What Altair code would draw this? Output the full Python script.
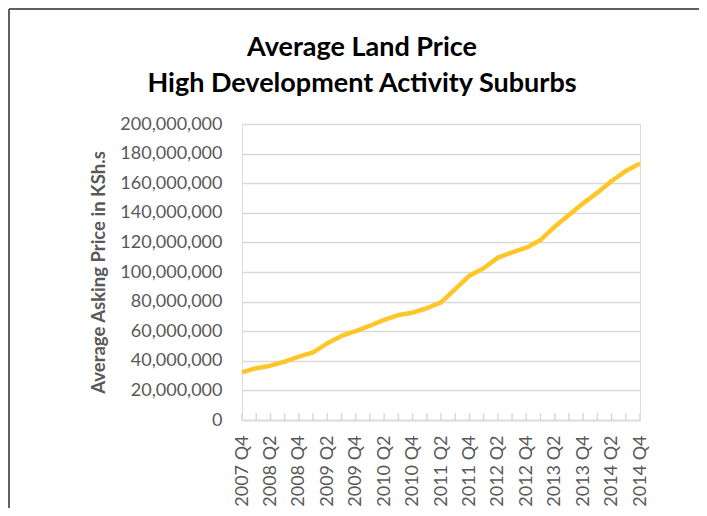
import altair as alt
import pandas as pd

quarters = ["2007 Q4"] + [f"{y} Q{q}" for y in range(2008, 2015) for q in range(1, 5)]
prices_m = [32.2, 35.0, 36.7, 39.4, 42.8, 45.7, 51.8, 56.8, 60.1, 63.7,
            67.6, 70.9, 72.5, 75.5, 79.5, 88.5, 97.5, 102.5, 109.7, 113.3,
            116.4, 121.6, 130.6, 138.5, 146.4, 153.6, 161.5, 168.2, 173.4]
y_ticks = [0, 20000000, 40000000, 60000000, 80000000, 100000000,
           120000000, 140000000, 160000000, 180000000, 200000000]
x_labels = quarters[::2]

df = pd.DataFrame({"quarter": quarters, "price": [v * 1e6 for v in prices_m]})

FONT = "Lato"
GRAY = "#595959"
GRID = "#d9d9d9"

x_enc = alt.X("quarter:O", sort=quarters,
              scale=alt.Scale(type="point", padding=0),
              axis=alt.Axis(values=x_labels, labelAngle=-90, ticks=False,
                            domain=True, domainColor=GRID, domainWidth=1.5,
                            labelColor=GRAY, labelFont=FONT, labelFontSize=18,
                            labelPadding=15, grid=False, title=None))
y_enc = alt.Y("price:Q", scale=alt.Scale(domain=[0, 200000000]),
              axis=alt.Axis(values=y_ticks, format=",d", domain=False, ticks=False,
                            gridColor=GRID, gridWidth=1.5,
                            labelColor=GRAY, labelFont=FONT, labelFontSize=18,
                            labelPadding=20,
                            title="Average Asking Price in KSh.s",
                            titleColor=GRAY, titleFont=FONT, titleFontSize=18.5,
                            titleFontWeight="bold", titlePadding=11))

base = alt.Chart(df)

line = base.mark_line(color="#FFC62A", strokeWidth=4.5, strokeJoin="round").encode(
    x=x_enc, y=y_enc)

ticks = base.mark_rule(color=GRID, strokeWidth=1.5).encode(
    x=alt.X("quarter:O", sort=quarters),
    y=alt.value(296), y2=alt.value(289))

frame = alt.Chart(pd.DataFrame({"k": [0]})).mark_rule(color="#606060", strokeWidth=2).encode(
    x=alt.value(-233), x2=alt.value(460), y=alt.value(-115))
frame_left = alt.Chart(pd.DataFrame({"k": [0]})).mark_rule(color="#606060", strokeWidth=2).encode(
    x=alt.value(-233), y=alt.value(-115), y2=alt.value(400))

chart = alt.layer(ticks, line, frame, frame_left).properties(
    width=398, height=296,
    autosize=alt.AutoSizeParams(type="none"),
    padding={"left": 234, "top": 116, "right": 59, "bottom": 88},
    title=alt.TitleParams(["Average Land Price", "High Development Activity Suburbs"],
                          font=FONT, fontSize=27, fontWeight="bold", color="black",
                          anchor="middle", dx=-79, offset=0, dy=90, baseline="top",
                          lineHeight=36),
).configure_view(stroke=None).configure(background="white")

chart.save("out.html", embed_options={"renderer": "svg", "actions": False})
